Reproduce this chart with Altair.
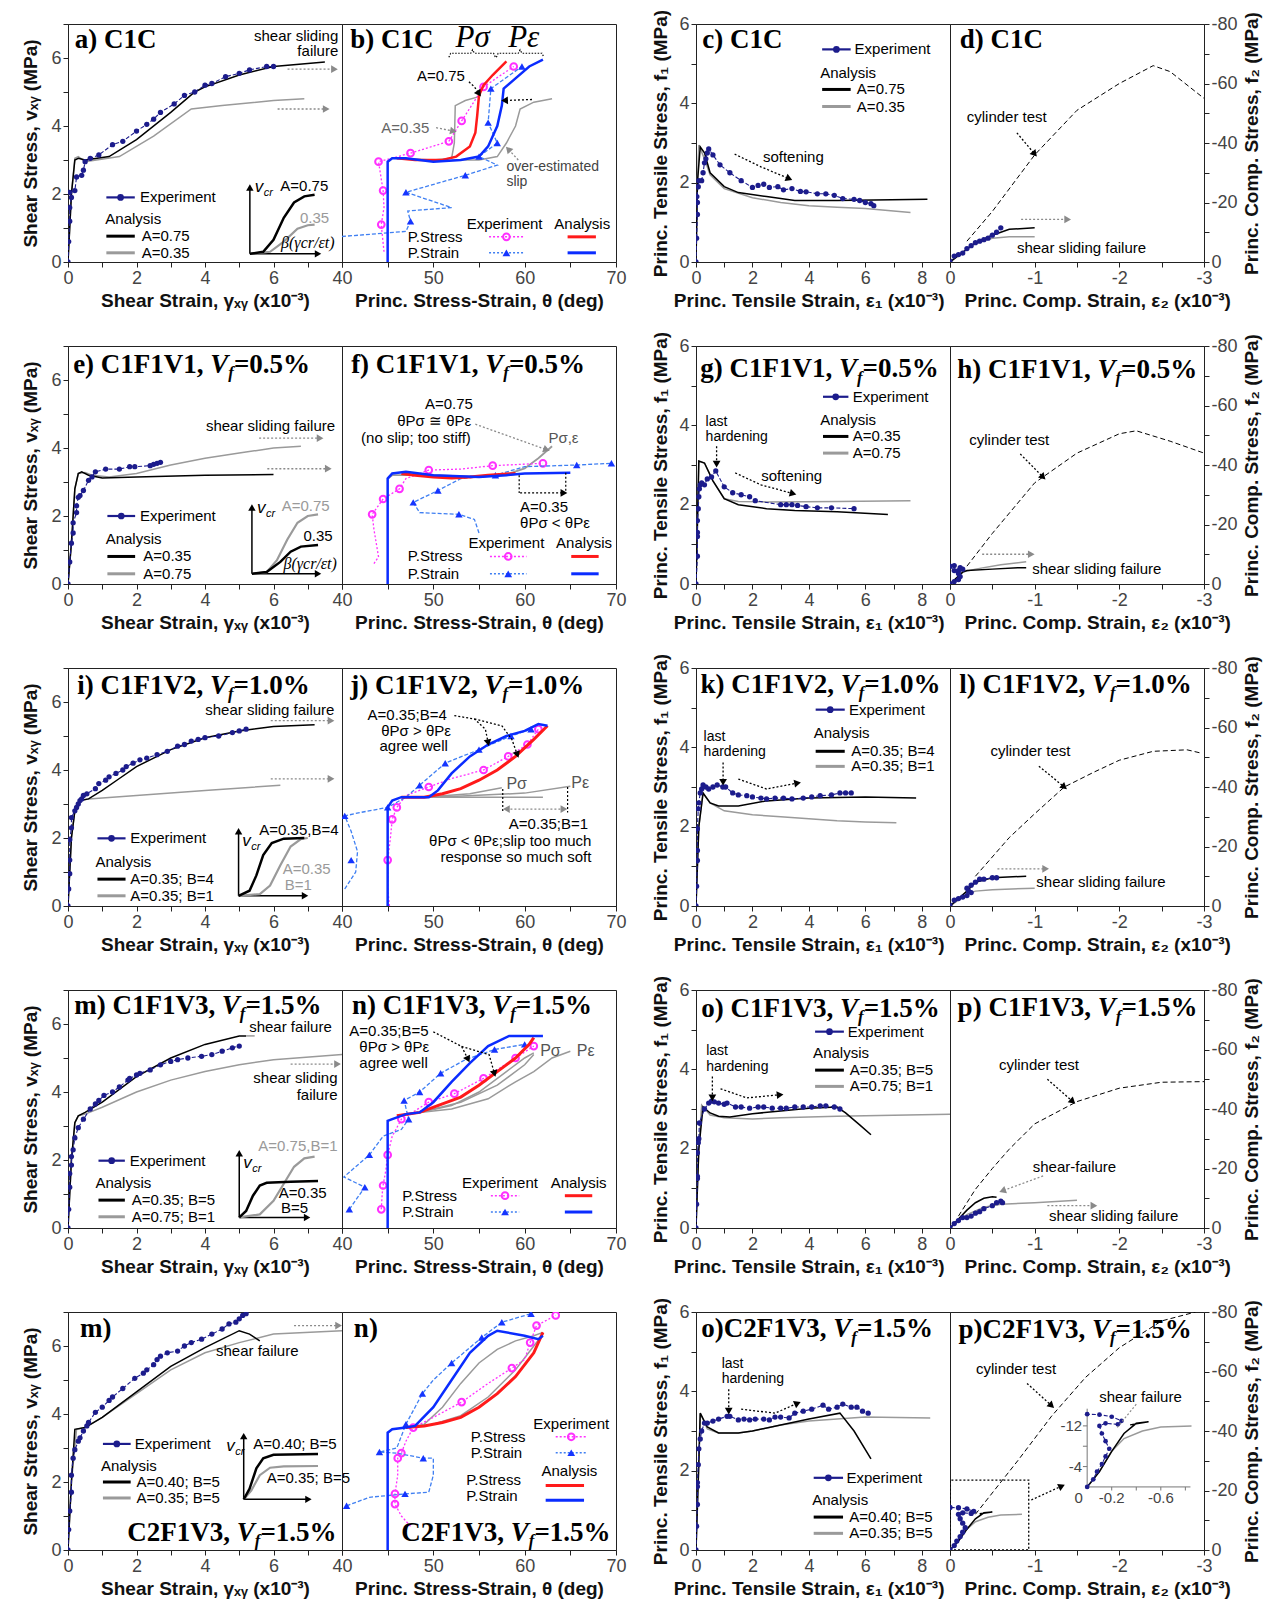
import math
import altair as alt
import pandas as pd

# ============================ DATA ============================
# ---------- Row 1 : C1C ----------
A_EXP = [(0,0),(0.02,0.6),(0.05,1.2),(0.05,1.6),(0.1,1.9),(0.05,2.05),(0.2,2.1),(0.25,2.5),(0.4,2.55),(0.45,2.7),(0.5,2.95),(0.65,3.05),(0.9,3.15),(1.3,3.45),(1.6,3.55),(2.0,3.85),(2.3,4.05),(2.5,4.2),(2.7,4.4),(3.1,4.65),(3.4,4.9),(3.7,5.0),(4.0,5.2),(4.2,5.25),(4.6,5.45),(5.0,5.55),(5.3,5.65),(5.8,5.75),(6.0,5.75)]
A_K = [(0,0),(0.1,2.0),(0.2,3.0),(0.3,3.05),(0.5,3.0),(1.2,3.1),(2.0,3.6),(3.0,4.4),(3.7,5.0),(4.0,5.15),(5.0,5.5),(6.0,5.75),(7.5,5.88)]
A_G = [(0,0),(0.1,2.0),(0.2,3.05),(0.3,3.1),(0.5,2.95),(1.5,3.1),(2.5,3.7),(3.6,4.5),(4.5,4.6),(6.0,4.75),(6.9,4.8)]
A_INS_K = [(5.31,0.24),(5.7,0.3),(6.0,0.65),(6.3,1.3),(6.6,1.75),(6.9,1.93),(7.2,1.98)]
A_INS_G = [(5.31,0.24),(5.9,0.3),(6.3,0.6),(6.7,0.98),(7.0,1.08),(7.2,1.1)]

B_RED = [(46,3.05),(48,3.0),(51,3.0),(52.5,3.1),(54,3.4),(54.6,3.8),(54.8,4.3),(55,4.9),(55.5,5.2),(56.5,5.5),(58,5.9)]
B_BLUE = [(45,0),(45,2.95),(45.5,3.05),(47,3.05),(50,2.95),(53,3.0),(55,3.1),(56,3.4),(57,4.0),(57.5,4.6),(57.7,5.1),(59,5.4),(60.5,5.75),(62,5.95)]
B_G1 = [(45.5,3.05),(50,3.0),(52,3.05),(52.3,3.5),(52.4,4.6),(53.5,4.75),(54.8,4.85)]
B_G2 = [(52,3.0),(55,3.0),(57,3.1),(58,3.5),(59,4.0),(59.5,4.5),(61,4.7),(63,4.8)]
B_MAG = [(44.6,0.3),(44.3,1.1),(44.6,1.6),(44.5,2.1),(44,2.95),(47.5,3.2),(51.7,3.55),(53.1,4.15),(55.5,5.15),(58.8,5.75)]
B_MAG_P = [(44.3,1.1),(44.5,2.1),(44,2.95),(47.5,3.2),(51.7,3.55),(53.1,4.15),(55.5,5.15),(58.8,5.75)]
B_LB = [(40,0.75),(47,0.9),(47.5,1.2),(47.2,1.5),(52,1.6),(47,2.05),(53.5,2.55),(57,2.85),(55,3.1),(57,3.5),(56,4.1),(56.3,5.1),(59.7,5.75)]
B_LB_P = [(47.5,1.2),(47,2.05),(53.5,2.55),(55,3.1),(57,3.5),(56,4.1),(56.3,5.1),(59.7,5.75)]

C_EXP = [(0,0),(0.02,0.6),(0.05,1.2),(0.05,1.5),(0.03,1.65),(0.08,1.9),(0.1,2.05),(0.2,2.05),(0.25,2.25),(0.3,2.5),(0.35,2.6),(0.4,2.75),(0.45,2.85),(0.6,2.7),(0.85,2.45),(1.2,2.25),(1.6,2.05),(2.0,1.88),(2.2,1.93),(2.4,1.96),(2.6,1.88),(2.9,1.9),(3.1,1.82),(3.4,1.85),(3.7,1.78),(3.9,1.77),(4.3,1.72),(4.6,1.72),(4.9,1.68),(5.2,1.6),(5.6,1.58),(5.8,1.55),(6.0,1.5),(6.2,1.47),(6.3,1.42)]
C_K = [(0,0),(0.05,2.0),(0.15,2.9),(0.3,2.75),(0.5,2.25),(1.0,1.9),(1.5,1.75),(2.5,1.65),(3.5,1.55),(5.0,1.55),(8.2,1.58)]
C_G = [(0,0),(0.05,2.0),(0.1,2.95),(0.3,2.6),(0.5,2.2),(1.0,1.85),(2.0,1.62),(3.0,1.5),(4.0,1.42),(5.0,1.38),(6.0,1.35),(7.6,1.25)]

D_CYL = [(-0.2,-7),(-0.5,-17),(-1.0,-36),(-1.5,-51),(-2.0,-60),(-2.4,-66),(-2.6,-64),(-3.0,-55)]
D_EXP = [(0,0),(-0.05,-2),(-0.1,-2.5),(-0.15,-3),(-0.2,-4.5),(-0.25,-5.5),(-0.3,-6.5),(-0.35,-7),(-0.4,-7.5),(-0.45,-8),(-0.5,-9),(-0.55,-10),(-0.6,-11.5)]
D_K = [(0,0),(-0.3,-6.5),(-0.5,-9),(-0.7,-11),(-1.0,-11.5)]
D_G = [(0,0),(-0.3,-6.5),(-0.5,-8),(-0.7,-8.5),(-1.0,-8.5)]

# ---------- Row 2 : C1F1V1 ----------
E_EXP = [(0,0),(0.05,0.65),(0.1,1.2),(0.15,1.5),(0.15,1.8),(0.25,2.1),(0.25,2.3),(0.3,2.55),(0.35,2.6),(0.45,2.75),(0.6,3.05),(0.7,3.15),(0.8,3.3),(1.1,3.38),(1.5,3.38),(1.8,3.45),(1.95,3.45),(2.4,3.48),(2.5,3.52),(2.6,3.55),(2.7,3.58)]
E_K = [(0,0),(0.1,1.2),(0.2,2.8),(0.3,3.25),(0.4,3.3),(0.6,3.2),(1.0,3.12),(2.0,3.15),(4.0,3.2),(6.0,3.22)]
E_G = [(0,0),(0.1,1.2),(0.2,2.8),(0.3,3.25),(0.5,3.28),(0.7,3.2),(1.2,3.15),(2.0,3.25),(3.0,3.5),(4.0,3.7),(5.0,3.85),(6.0,4.0),(6.8,4.05)]
E_INS_G = [(5.37,0.3),(5.8,0.35),(6.1,0.7),(6.4,1.3),(6.7,1.8),(7.0,2.0),(7.3,2.05)]
E_INS_K = [(5.37,0.3),(5.8,0.35),(6.2,0.65),(6.5,0.95),(6.8,1.1),(7.3,1.15)]

F_BLUE = [(45,0),(45,3.1),(45.5,3.25),(47,3.3),(50,3.2),(55,3.15),(58,3.2),(60,3.25),(65,3.27)]
F_RED = [(46.5,3.25),(48,3.2),(50,3.15),(52,3.12),(54,3.15),(56,3.2),(59,3.25)]
F_G = [(45,3.1),(45.5,3.2),(50,3.2),(55,3.15),(58,3.22),(60,3.4),(61.5,3.7),(63,4.05)]
F_MAG = [(43.5,0.6),(44,0.8),(43.5,1.6),(43.3,2.05),(44.5,2.5),(46.3,2.8),(47,3.1),(49.5,3.35),(53,3.38),(56.5,3.48),(62,3.55)]
F_MAG_P = [(43.3,2.05),(44.5,2.5),(46.3,2.8),(49.5,3.35),(56.5,3.48),(62,3.55)]
F_LB = [(55,1.5),(54.5,1.9),(52.8,2.05),(48.5,2.1),(47.8,2.4),(50.5,2.75),(53,3.1),(56.8,3.2),(60,3.45),(65.7,3.5),(69.5,3.55)]
F_LB_P = [(47.8,2.4),(50.5,2.75),(52.8,2.05),(56.8,3.2),(65.7,3.5),(69.5,3.55)]

G_EXP = [(0,0),(0.05,0.7),(0.05,1.2),(0.05,1.3),(0.05,1.6),(0.08,1.9),(0.1,2.2),(0.12,2.4),(0.15,2.5),(0.2,2.55),(0.3,2.5),(0.4,2.65),(0.55,2.7),(0.7,2.85),(1.0,2.45),(1.3,2.3),(1.6,2.25),(1.9,2.2),(2.1,2.1),(3.0,2.0),(3.2,2.0),(3.4,2.0),(3.6,1.98),(3.9,1.95),(4.3,1.92),(4.8,1.92),(5.6,1.9)]
G_K = [(0,0),(0.05,1.5),(0.1,3.1),(0.3,3.05),(0.6,2.6),(1.0,2.15),(1.5,2.0),(2.5,1.9),(3.5,1.85),(5.0,1.82),(6.8,1.75)]
G_G = [(0,0),(0.05,1.5),(0.1,3.1),(0.3,3.05),(0.6,2.6),(1.0,2.15),(1.5,2.08),(2.5,2.07),(5.0,2.08),(7.6,2.1)]

H_CYL = [(-0.2,-6),(-0.5,-17),(-1.0,-34),(-1.5,-44),(-2.0,-50.5),(-2.2,-51.5),(-2.6,-48),(-3.0,-44)]
H_EXP = [(0,0),(-0.05,-0.8),(-0.1,-1.5),(-0.12,-2.5),(-0.1,-3.5),(-0.05,-4.5),(0,-6),(-0.05,-6.2),(-0.12,-5.5),(-0.15,-5.0),(-0.1,-4.5)]
H_K = [(0,0),(-0.15,-4),(-0.2,-4.5),(-0.5,-5),(-0.8,-5.5),(-0.9,-5.5)]
H_G = [(0,0),(-0.15,-4),(-0.3,-5),(-0.6,-6.5),(-0.9,-7.5)]

# ---------- Row 3 : C1F1V2 ----------
I_EXP = [(0,0),(0.02,0.5),(0.05,0.95),(0.05,1.35),(0.05,1.95),(0.1,2.3),(0.1,2.6),(0.2,2.8),(0.25,2.9),(0.3,3.0),(0.35,3.1),(0.4,3.15),(0.45,3.25),(0.55,3.3),(0.8,3.45),(0.9,3.6),(1.1,3.7),(1.2,3.8),(1.4,3.9),(1.6,4.0),(1.7,4.1),(1.9,4.2),(2.1,4.3),(2.3,4.35),(2.6,4.45),(2.9,4.55),(3.2,4.7),(3.4,4.75),(3.6,4.85),(3.8,4.9),(4.0,4.95),(4.4,5.0),(4.8,5.1),(5.0,5.15),(5.2,5.2)]
I_K = [(0,0),(0.1,2.0),(0.2,2.8),(0.35,3.1),(0.6,3.15),(1.0,3.4),(1.5,3.75),(2.0,4.1),(3.0,4.6),(4.0,4.95),(5.0,5.15),(6.0,5.28),(7.2,5.33)]
I_G = [(0,0),(0.1,2.0),(0.2,2.8),(0.35,3.1),(0.6,3.15),(2.0,3.25),(4.0,3.4),(6.2,3.55)]
I_INS_K = [(4.98,0.3),(5.3,0.45),(5.5,0.9),(5.7,1.5),(5.95,1.85),(6.3,1.98),(6.9,2.0)]
I_INS_G = [(4.98,0.3),(5.6,0.35),(5.9,0.6),(6.2,1.2),(6.5,1.75),(6.8,1.97),(7.0,2.0)]

J_BLUE = [(45,0),(45,2.9),(45.5,3.1),(46.5,3.2),(48,3.2),(49.5,3.2),(50.5,3.4),(52,3.9),(54,4.4),(56,4.75),(58,5.0),(60,5.15),(61.5,5.35),(62.5,5.3)]
J_RED = [(46.5,3.2),(49,3.2),(51,3.3),(53,3.45),(55,3.7),(57,4.0),(59,4.4),(61,4.9),(62.5,5.3)]
J_G1 = [(46.5,3.2),(50,3.22),(54,3.3),(57.5,3.48)]
J_G2 = [(46.5,3.2),(52,3.22),(60,3.32),(65,3.52)]
J_G3 = [(46.5,3.2),(62,3.2)]
J_MAG = [(45.2,0),(45,0.5),(45,1.35),(45.3,2.0),(45.5,2.55),(46,2.9),(47,3.25),(49.5,3.5),(52,3.75),(55.5,4.0),(58.2,4.4),(60.3,4.75),(61.5,5.2)]
J_MAG_P = [(45,1.35),(45.5,2.55),(46,2.9),(49.5,3.5),(55.5,4.0),(58.2,4.4),(60.3,4.75),(61.5,5.2)]
J_LB = [(40.3,0.5),(41.5,1.0),(41.7,1.6),(41,2.2),(40.3,2.65),(42,2.75),(45,2.9),(47,3.2),(48.5,3.55),(50,3.9),(51.3,4.2),(55,4.6),(58.5,5.0),(60.7,5.2)]
J_LB_P = [(40.3,2.65),(41,1.35),(45,2.9),(48.5,3.55),(51.3,4.2),(55,4.6),(58.5,5.0),(60.7,5.2)]

K_EXP = [(0,0),(0.02,0.5),(0.05,1.15),(0.05,1.4),(0.05,1.95),(0.08,2.45),(0.1,2.6),(0.15,2.85),(0.2,2.95),(0.25,3.05),(0.35,3.0),(0.45,2.95),(0.6,3.0),(0.75,3.05),(0.95,3.0),(1.05,3.0),(1.3,2.85),(1.5,2.8),(1.8,2.78),(2.0,2.75),(2.3,2.72),(2.5,2.7),(2.8,2.72),(3.1,2.72),(3.4,2.7),(3.8,2.72),(4.1,2.75),(4.4,2.78),(4.8,2.8),(5.1,2.85),(5.3,2.85),(5.5,2.85)]
K_K = [(0,0),(0.1,2.0),(0.25,2.85),(0.5,2.6),(0.8,2.52),(1.5,2.52),(2.5,2.65),(4.0,2.72),(6.0,2.75),(7.8,2.72)]
K_G = [(0,0),(0.1,2.0),(0.25,2.85),(0.5,2.6),(1.0,2.4),(2.0,2.3),(3.0,2.25),(4.0,2.2),(5.0,2.15),(6.0,2.12),(7.1,2.1)]

L_CYL = [(-0.3,-10),(-0.7,-23),(-1.0,-31),(-1.35,-40),(-1.7,-45),(-2.0,-49),(-2.4,-52),(-2.8,-52.5),(-2.95,-51.5)]
L_EXP = [(0,0),(-0.05,-2),(-0.1,-2.5),(-0.15,-3),(-0.2,-3.5),(-0.25,-4.5),(-0.22,-5),(-0.2,-6),(-0.25,-7),(-0.3,-8),(-0.35,-9),(-0.4,-9),(-0.5,-9.5),(-0.55,-9.5)]
L_K = [(0,0),(-0.2,-5),(-0.3,-8),(-0.5,-9.5),(-0.9,-10)]
L_G = [(0,0),(-0.2,-4),(-0.3,-5),(-0.5,-5.5),(-1.0,-6)]

# ---------- Row 4 : C1F1V3 ----------
M_EXP = [(0,0),(0.02,0.55),(0.05,1.2),(0.05,1.6),(0.1,1.85),(0.1,2.1),(0.15,2.3),(0.2,2.65),(0.3,2.95),(0.45,3.2),(0.65,3.5),(0.8,3.65),(0.9,3.75),(1.05,3.9),(1.3,4.0),(1.5,4.15),(1.75,4.35),(1.8,4.4),(2.0,4.5),(2.1,4.55),(2.4,4.65),(2.7,4.8),(3.0,4.9),(3.2,4.95),(3.5,5.0),(3.9,5.05),(4.2,5.1),(4.5,5.2),(4.8,5.3),(5.0,5.35)]
M_K = [(0,0),(0.1,2.0),(0.2,3.1),(0.3,3.3),(0.5,3.4),(1.0,3.7),(2.0,4.45),(3.0,5.0),(4.0,5.4),(5.0,5.65),(5.2,5.65)]
M_K_EXT = [(5.2,5.65),(5.45,5.65)]
M_G = [(0,0),(0.1,2.0),(0.2,3.1),(0.3,3.3),(0.5,3.35),(1.0,3.55),(2.0,4.0),(3.0,4.35),(4.0,4.6),(5.0,4.8),(6.0,4.95),(8.0,5.1)]
M_INS_K = [(5.0,0.31),(5.2,0.5),(5.4,0.95),(5.6,1.25),(5.8,1.33),(6.5,1.36),(7.3,1.38)]
M_INS_G = [(5.0,0.31),(5.6,0.4),(6.0,0.8),(6.3,1.3),(6.6,1.8),(6.9,2.05),(7.2,2.1)]

N_BLUE = [(45,0),(45,3.15),(45.5,3.2),(47,3.35),(48.5,3.4),(50,3.7),(52,4.3),(54,4.85),(56,5.35),(58.3,5.65),(62,5.65)]
N_RED = [(46,3.3),(48.5,3.4),(51,3.65),(53,3.85),(55,4.2),(57,4.6),(59,5.0),(60.5,5.4),(61,5.6)]
N_G1 = [(48.5,3.4),(52,3.6),(55,4.0),(58,4.6),(60,5.0),(61,5.15)]
N_G2 = [(48.5,3.4),(53,3.7),(57,4.2),(60,4.8),(61,5.1)]
N_G3 = [(48.5,3.4),(52,3.5),(56,3.8),(59,4.3),(61,4.6),(63,5.0),(65,5.2)]
N_MAG = [(44.3,0.55),(44.4,1.0),(44.5,1.25),(44.8,1.7),(45,2.15),(45.5,2.7),(46.5,3.2),(49.5,3.7),(52.3,3.95),(55.5,4.4),(59,5.0),(61,5.35)]
N_MAG_P = [(44.3,0.55),(44.5,1.25),(45,2.15),(46.5,3.2),(49.5,3.7),(52.3,3.95),(55.5,4.4),(59,5.0),(61,5.35)]
N_LB = [(40.8,0.55),(42.5,1.2),(40.2,1.5),(43,2.15),(44.5,2.7),(46.5,2.9),(47.3,3.2),(46.8,3.75),(48.5,4.0),(50.8,4.55),(53.5,4.95),(56.7,5.25),(60,5.4)]
N_LB_P = [(40.8,0.55),(42.5,1.2),(43,2.15),(47.3,3.2),(46.8,3.75),(48.5,4.0),(50.8,4.55),(56.7,5.25),(60,5.4)]

O_EXP = [(0,0),(0.02,0.6),(0.05,1.25),(0.05,1.3),(0.05,1.9),(0.08,2.15),(0.1,2.25),(0.12,2.65),(0.3,3.0),(0.45,3.15),(0.55,3.2),(0.65,3.18),(0.8,3.15),(1.0,3.12),(1.1,3.15),(1.4,3.05),(1.6,3.05),(1.9,3.02),(2.2,3.05),(2.4,3.05),(2.7,3.02),(3.0,3.02),(3.2,3.02),(3.5,3.05),(3.8,3.05),(4.1,3.05),(4.4,3.08),(4.6,3.08),(4.9,3.05),(5.1,3.0)]
O_K = [(0,0),(0.1,2.0),(0.25,3.05),(0.5,2.9),(0.8,2.82),(1.2,2.8),(2.0,2.88),(3.0,2.95),(4.0,3.02),(5.0,3.05),(5.3,2.9),(5.8,2.6),(6.2,2.35)]
O_G = [(0,0),(0.1,2.0),(0.2,3.1),(0.5,2.85),(1.0,2.78),(2.0,2.75),(3.0,2.78),(5.0,2.82),(9.0,2.87)]

P_CYL = [(-0.1,-4),(-0.3,-13),(-0.5,-20),(-0.7,-26.5),(-1.0,-35),(-1.5,-42.5),(-2.0,-47),(-2.5,-49),(-3.0,-49.2)]
P_EXP = [(0,0),(-0.05,-1.5),(-0.1,-2.5),(-0.15,-3.5),(-0.2,-3.5),(-0.25,-4),(-0.3,-5),(-0.35,-5.5),(-0.4,-6.5),(-0.5,-7.5),(-0.55,-8.5),(-0.6,-9),(-0.62,-8.5)]
P_K = [(0,0),(-0.1,-3),(-0.2,-6),(-0.3,-8.5),(-0.4,-10),(-0.5,-10.5),(-0.55,-10.3)]
P_G = [(0,0),(-0.2,-4.5),(-0.4,-7),(-0.6,-8),(-1.0,-8.5),(-1.5,-9.3)]

# ---------- Row 5 : C2F1V3 ----------
M2_EXP = [(0,0),(0.02,0.6),(0.05,1.15),(0.1,1.7),(0.1,2.2),(0.15,2.7),(0.2,2.95),(0.3,3.2),(0.35,3.3),(0.45,3.5),(0.55,3.65),(0.6,3.75),(0.8,4.05),(1.0,4.2),(1.2,4.4),(1.3,4.5),(1.6,4.75),(1.95,5.05),(2.2,5.2),(2.3,5.3),(2.5,5.45),(2.6,5.6),(2.7,5.7),(2.9,5.8),(3.2,5.85),(3.4,6.0),(3.6,6.1),(3.9,6.2),(4.2,6.35),(4.5,6.5),(4.7,6.65),(4.9,6.7),(5.0,6.8),(5.1,6.9),(5.2,6.95)]
M2_K = [(0,0),(0.1,2.0),(0.2,3.55),(0.5,3.6),(1.0,3.9),(2.0,4.65),(3.0,5.4),(4.0,5.95),(5.0,6.45),(5.3,6.35),(5.6,6.15)]
M2_G = [(0,0),(0.1,2.0),(0.25,3.55),(0.5,3.6),(1.0,3.9),(2.0,4.6),(3.0,5.3),(4.0,5.8),(5.0,6.1),(6.0,6.35),(8.0,6.45)]
M2_INS_K = [(5.13,1.49),(5.3,1.8),(5.5,2.4),(5.7,2.7),(6.0,2.8),(7.3,2.82)]
M2_INS_G = [(5.13,1.49),(5.35,1.75),(5.6,2.2),(5.9,2.42),(6.3,2.46),(7.3,2.47)]

N2_BLUE = [(45,0),(45,3.45),(45.5,3.55),(47,3.6),(48,3.65),(50,4.2),(52,5.0),(54,5.8),(56,6.3),(57,6.45),(60,6.3),(61.5,6.2),(62,6.3)]
N2_RED = [(47,3.6),(49,3.65),(51,3.75),(53,3.9),(55,4.2),(57,4.6),(59,5.1),(61,5.8),(62,6.4)]
N2_G1 = [(47.5,3.6),(49,3.7),(51,4.2),(53,4.9),(55,5.5),(57,5.9),(59,6.15),(61,6.3),(62,6.4)]
N2_G2 = [(47.5,3.6),(50,3.7),(53,3.95),(56,4.5),(59,5.3),(61,6.0),(62,6.35)]
N2_MAG = [(47.5,0.7),(46.5,1.0),(45.8,1.35),(45.8,1.65),(46.1,2.2),(46.1,2.7),(46.5,2.85),(47,3.2),(47.8,3.6),(50,3.9),(53.1,4.35),(56,4.9),(58.6,5.35),(60,5.6),(60.6,6.1),(61.3,6.6),(63.4,6.9)]
N2_MAG_P = [(45.8,1.35),(45.8,1.65),(46.1,2.7),(46.5,2.85),(47.8,3.6),(53.1,4.35),(58.6,5.35),(60.6,6.1),(61.3,6.6),(63.4,6.9)]
N2_LB = [(40.5,1.3),(43,1.55),(46.9,1.65),(49.5,1.7),(50,2.2),(50,2.7),(48.9,2.7),(46,2.85),(44.1,2.88),(46,3.0),(47,3.7),(48,4.2),(48.8,4.6),(50,5.0),(52,5.5),(55.3,6.25),(57.5,6.7),(60.7,6.95)]
N2_LB_P = [(40.5,1.3),(46.9,1.65),(48.9,2.7),(44.1,2.88),(47,3.7),(48.8,4.6),(52,5.5),(55.3,6.25),(57.5,6.7),(60.7,6.95)]

O2_EXP = [(0,0),(0.02,0.6),(0.05,1.15),(0.05,1.6),(0.05,1.7),(0.08,2.15),(0.1,2.55),(0.15,2.8),(0.2,3.0),(0.3,3.2),(0.4,3.2),(0.6,3.25),(0.8,3.3),(1.1,3.37),(1.2,3.37),(1.5,3.28),(1.7,3.3),(1.9,3.28),(2.1,3.3),(2.4,3.3),(2.6,3.28),(2.8,3.35),(3.0,3.35),(3.3,3.33),(3.5,3.45),(3.8,3.5),(4.1,3.55),(4.5,3.65),(4.7,3.55),(5.0,3.6),(5.2,3.68),(5.5,3.6),(5.7,3.6),(5.9,3.5),(6.1,3.45)]
O2_K = [(0,0),(0.1,2.2),(0.15,3.45),(0.4,3.1),(0.8,2.95),(1.5,2.95),(2.0,3.0),(3.0,3.15),(4.0,3.3),(5.1,3.45),(5.6,3.0),(6.2,2.3)]
O2_G = [(0,0),(0.1,2.2),(0.15,3.45),(0.4,3.05),(0.8,2.95),(1.5,2.95),(2.0,3.0),(3.0,3.15),(4.0,3.25),(5.0,3.3),(6.0,3.35),(8.3,3.33)]

P2_CYL = [(-0.3,-12),(-0.8,-30),(-1.2,-45),(-1.6,-58),(-2.0,-68),(-2.5,-77),(-2.9,-80)]
P2_EXP = [(0,0),(-0.05,-1.5),(-0.08,-3),(-0.12,-4.5),(-0.15,-6),(-0.18,-7.5),(-0.15,-9),(-0.12,-10.5),(-0.1,-12),(-0.15,-12.5),(-0.25,-12.3),(-0.28,-13),(-0.2,-13.8),(-0.1,-14.2),(0,-14.3)]
P2_K = [(0,0),(-0.1,-3),(-0.2,-7),(-0.3,-10.5),(-0.4,-12.5),(-0.5,-12.8),(-0.35,-12.2)]
P2_G = [(0,0),(-0.1,-3),(-0.2,-7),(-0.3,-9.5),(-0.45,-11),(-0.6,-11.8),(-0.85,-12)]
P2_BOX = [(0,0),(-0.93,0),(-0.93,-23.5),(0,-23.5),(0,0)]
# inset of p): origin and scale of the magnified view
INS_X0, INS_Y0, INS_SX, INS_SY = -1.62, -21.2, 1.45, 1.71

# ============================ STYLE ============================
SANS = "Liberation Sans"
SERIF = "Liberation Serif"
NAVY = "#1c1c8c"
GRAY = "#9a9a9a"
AGRAY = "#8a8a8a"
MAG = "#ff30ff"
LBLUE = "#3f7ff2"
TRI = "#1535ff"
RED = "#ff1a1a"
BLUE = "#0a2cff"
WL, WR, GAP, H, VS = 274, 254, 80, 238, 84

# Times-bold advance widths (1/1000 em) for positioning title pieces
TBW = {'a':500,'b':556,'c':444,'d':556,'e':444,'f':333,'g':500,'h':556,'i':278,'j':333,'k':556,
       'l':278,'m':833,'n':556,'o':500,'p':556,')':333,' ':250,',':250,'=':570,'.':250,'%':1000,
       'C':722,'F':611,'V':722}


def ax_(values, expr, title, **kw):
    return alt.Axis(values=values, labelExpr=expr, title=title, **kw)


AX = {
    'ax': ax_(list(range(0, 9)), "datum.value % 2 == 0 && datum.value < 8 ? datum.label : ''",
              'Shear Strain, γₓᵧ (x10⁻³)'),
    'ay': ax_(list(range(0, 8)), "datum.value % 2 == 0 && datum.value < 7 ? datum.label : ''",
              'Shear Stress, vₓᵧ (MPa)', titlePadding=10),
    'bx': ax_(list(range(40, 71, 5)), "datum.value % 10 == 0 ? datum.label : ''",
              'Princ. Stress-Strain, θ (deg)'),
    'cx': ax_(list(range(0, 10)), "datum.value % 2 == 0 && datum.value < 9 ? datum.label : ''",
              'Princ. Tensile Strain, ε₁ (x10⁻³)', titleX=WR - 6, titleAlign='right'),
    'cy': ax_(list(range(0, 7)), "datum.value % 2 == 0 ? datum.label : ''",
              'Princ. Tensile Stress, f₁ (MPa)', titlePadding=8),
    'dx': ax_([0, -0.5, -1, -1.5, -2, -2.5, -3],
              "datum.value % 1 == 0 ? (datum.value == 0 ? '0' : '-' + format(-datum.value, 'd')) : ''",
              'Princ. Comp. Strain, ε₂ (x10⁻³)', titleX=14, titleAlign='left'),
    'dy': ax_(list(range(0, -81, -10)),
              "datum.value % 20 == 0 ? (datum.value == 0 ? '0' : '-' + format(-datum.value, 'd')) : ''",
              'Princ. Comp. Stress, f₂ (MPa)', orient='right', titleAngle=270, titleBaseline='top',
              titlePadding=5),
}


class Panel:
    def __init__(self, xd, yd, w, h, xax, yax):
        self.xd, self.yd, self.w, self.h = xd, yd, w, h
        self.xax, self.yax = xax, yax
        self.layers = []

    def enc(self, ch, order=False):
        e = dict(
            x=alt.X('x:Q', scale=alt.Scale(domain=list(self.xd), nice=False, zero=False), axis=self.xax),
            y=alt.Y('y:Q', scale=alt.Scale(domain=list(self.yd), nice=False, zero=False), axis=self.yax),
        )
        if order:
            e['order'] = alt.Order('o:Q')
        return ch.encode(**e)

    def px(self, x, y):
        fx = (x - self.xd[0]) / (self.xd[1] - self.xd[0]) * self.w
        fy = (1 - (y - self.yd[0]) / (self.yd[1] - self.yd[0])) * self.h
        return fx, fy

    def line(self, pts, color, w=1.2, dash=None, op=1.0):
        df = pd.DataFrame({'x': [p[0] for p in pts], 'y': [p[1] for p in pts], 'o': list(range(len(pts)))})
        kw = dict(color=color, strokeWidth=w, opacity=op, clip=True)
        if dash:
            kw['strokeDash'] = list(dash)
        self.layers.append(self.enc(alt.Chart(df).mark_line(**kw), order=True))

    def pts(self, pts, color, shape='circle', size=30, filled=True, sw=1.5, angle=0.0):
        df = pd.DataFrame({'x': [p[0] for p in pts], 'y': [p[1] for p in pts]})
        kw = dict(shape=shape, size=size, filled=filled, color=color, strokeWidth=sw, opacity=1, clip=True)
        if angle:
            kw['angle'] = round(angle, 2)
        self.layers.append(self.enc(alt.Chart(df).mark_point(**kw)))

    def text(self, x, y, s, size=15, color='black', align='left', font=SANS, weight='normal',
             style='normal', baseline='middle', dx=0, dy=0):
        df = pd.DataFrame({'x': [x], 'y': [y]})
        self.layers.append(self.enc(alt.Chart(df).mark_text(
            text=s, fontSize=size, color=color, align=align, font=font, fontWeight=weight,
            fontStyle=style, baseline=baseline, dx=dx, dy=dy)))

    def head(self, p1, p2, color, size):
        x1, y1 = self.px(*p1)
        x2, y2 = self.px(*p2)
        ang = math.degrees(math.atan2(x2 - x1, -(y2 - y1))) % 360
        self.pts([p2], color, 'triangle-up', size, True, 0, angle=ang)

    def arrow(self, pts, color='black', dash=(2, 2), w=1.3, size=60, both=False):
        self.line(pts, color, w, dash)
        self.head(pts[-2], pts[-1], color, size)
        if both:
            self.head(pts[1], pts[0], color, size)

    def chart(self):
        return alt.layer(*self.layers).properties(width=self.w, height=self.h)


def mk(kind):
    if kind == 'a':
        return Panel((0, 8), (0, 7), WL, H, AX['ax'], AX['ay'])
    if kind == 'b':
        return Panel((40, 70), (0, 7), WL, H, AX['bx'], None)
    if kind == 'c':
        return Panel((0, 9), (0, 6), WR, H, AX['cx'], AX['cy'])
    return Panel((0, -3), (0, -80), WR, H, AX['dx'], AX['dy'])


def twidth(s, size, italic=False):
    w = 0
    for ch in s:
        w += 667 if (italic and ch == 'V') else TBW.get(ch, 500)
    return w / 1000.0 * size


def title(p, x, y, parts, size=27, align='left'):
    items = []
    for t, k in parts:
        fs = size * 0.62 if k == 's' else size
        items.append((t, k, fs, twidth(t, fs, k != 'b')))
    total = sum(i[3] for i in items)
    cur = -total if align == 'right' else 0.0
    for t, k, fs, w in items:
        p.text(x, y, t, size=round(fs, 1), font=SERIF, weight='bold',
               style='normal' if k == 'b' else 'italic', dx=round(cur, 1),
               dy=round(size * 0.3, 1) if k == 's' else 0)
        cur += w


def vf(prefix, val):
    return [(prefix, 'b'), ('V', 'i'), ('f', 's'), ('=' + val, 'b')]


def expser(p, pts, size=28):
    p.line(pts, NAVY, 1.1, [4, 2])
    p.pts(pts, NAVY, 'circle', size, True)


def leg_exp(p, x0, x1, y, tx):
    p.line([(x0, y), (x1, y)], NAVY, 2.2)
    p.pts([((x0 + x1) / 2, y)], NAVY, 'circle', 45, True)
    p.text(tx, y, 'Experiment')


def leg_ana(p, xa, ya, x0, x1, tx, items):
    p.text(xa, ya, 'Analysis')
    for y, col, lab in items:
        p.line([(x0, y), (x1, y)], col, 3)
        p.text(tx, y, lab)


def sym_stress(p, x0, x1, y):
    p.line([(x0, y), (x1, y)], MAG, 1.5, [2, 2])
    p.pts([((x0 + x1) / 2, y)], MAG, 'circle', 45, False, 2)


def sym_strain(p, x0, x1, y):
    p.line([(x0, y), (x1, y)], LBLUE, 1.5, [2, 2])
    p.pts([((x0 + x1) / 2, y)], TRI, 'triangle-up', 60, True)


def leg_angle(p, xE, xA, yH, xt, yS, yT, s0, s1, a0, a1):
    p.text(xE, yH, 'Experiment', align='center')
    p.text(xA, yH, 'Analysis', align='center')
    p.text(xt, yS, 'P.Stress')
    p.text(xt, yT, 'P.Strain')
    sym_stress(p, s0, s1, yS)
    sym_strain(p, s0, s1, yT)
    p.line([(a0, yS), (a1, yS)], RED, 3)
    p.line([(a0, yT), (a1, yT)], BLUE, 3)


def vcr(p, x, y, color='black'):
    p.text(x, y, 'v', size=17, style='italic', color=color)
    p.text(x, y, 'cr', size=11, style='italic', dx=9, dy=6, color=color)


def inset_axes(p, x0, y0, x1, y1):
    p.arrow([(x0, y0), (x0, y1)], 'black', None, 1.5, 55)
    p.arrow([(x0, y0), (x1, y0)], 'black', None, 1.5, 55)


def angle_series(p, mag, magp, lb, lbp):
    p.line(mag, MAG, 1.3, [2, 2])
    p.pts(magp, MAG, 'circle', 45, False, 2)
    p.line(lb, LBLUE, 1.3, [4, 2])
    p.pts(lbp, TRI, 'triangle-up', 55, True)


def two_lines(p, x, y1, y2, s1, s2, size=14, color='black', align='left'):
    p.text(x, y1, s1, size=size, color=color, align=align)
    p.text(x, y2, s2, size=size, color=color, align=align)


# ============================ ROW 1 ============================
a = mk('a')
title(a, 0.2, 6.52, [("a) C1C", 'b')])
a.line(A_G, GRAY, 1.5)
a.line(A_K, 'black', 1.5)
expser(a, A_EXP)
two_lines(a, 7.89, 6.64, 6.2, 'shear sliding', 'failure', size=15, align='right')
a.arrow([(6.41, 5.67), (7.78, 5.67)], AGRAY)
a.arrow([(6.12, 4.5), (7.54, 4.5)], AGRAY)
leg_exp(a, 1.12, 1.95, 1.9, 2.1)
leg_ana(a, 1.09, 1.26, 1.12, 1.95, 2.15, [(0.76, 'black', 'A=0.75'), (0.27, GRAY, 'A=0.35')])
inset_axes(a, 5.31, 0.24, 7.3, 2.19)
a.line(A_INS_G, GRAY, 2.2)
a.line(A_INS_K, 'black', 2.5)
vcr(a, 5.45, 2.2)
a.text(6.2, 2.24, 'A=0.75')
a.text(7.2, 1.29, '0.35', color=GRAY, align='center')
a.text(7.0, 0.57, 'β(γcr/εt)', font=SERIF, style='italic', align='center', size=16)

b = mk('b')
title(b, 40.9, 6.52, [("b) C1C", 'b')])
b.text(54.3, 6.6, 'Pσ', size=31, font=SERIF, style='italic', align='center')
b.text(59.9, 6.6, 'Pε', size=31, font=SERIF, style='italic', align='center')
b.line([(51.7, 6.02), (51.9, 6.14), (54.1, 6.14), (54.3, 6.24), (54.5, 6.14), (56.6, 6.14), (56.8, 6.02)], 'black', 1.2, [1.5, 1.5])
b.line([(56.9, 6.02), (57.1, 6.14), (59.3, 6.14), (59.5, 6.24), (59.7, 6.14), (61.9, 6.14), (62.1, 6.02)], 'black', 1.2, [1.5, 1.5])
b.line(B_G1, GRAY, 1.5)
b.line(B_G2, GRAY, 1.5)
angle_series(b, B_MAG, B_MAG_P, B_LB, B_LB_P)
b.line(B_RED, RED, 2.5)
b.line(B_BLUE, BLUE, 2.5)
b.text(48.2, 5.48, 'A=0.75')
b.arrow([(53.9, 5.3), (54.5, 5.15), (55.0, 4.95)], 'black')
b.arrow([(60.8, 4.78), (57.8, 4.75)], 'black')
b.text(44.3, 3.95, 'A=0.35', color='#666')
b.arrow([(50.3, 3.95), (52.2, 3.85)], AGRAY)
two_lines(b, 58.0, 2.8, 2.36, 'over-estimated', 'slip', size=14, color='#444')
b.arrow([(59.3, 3.0), (58.2, 3.32)], AGRAY)
leg_angle(b, 57.8, 66.3, 1.12, 47.2, 0.74, 0.27, 56.1, 59.9, 64.7, 67.8)

c = mk('c')
title(c, 0.22, 5.59, [("c) C1C", 'b')])
c.line(C_G, GRAY, 1.5)
c.line(C_K, 'black', 1.5)
expser(c, C_EXP)
c.text(3.45, 2.64, 'softening', align='center')
c.arrow([(1.37, 2.72), (2.3, 2.4), (3.3, 2.1)], 'black')
leg_exp(c, 4.47, 5.48, 5.36, 5.62)
leg_ana(c, 4.4, 4.76, 4.47, 5.48, 5.7, [(4.35, 'black', 'A=0.75'), (3.92, GRAY, 'A=0.35')])

d = mk('d')
title(d, -0.115, -74.5, [("d) C1C", 'b')])
d.line(D_CYL, 'black', 1, [5, 3])
d.line(D_G, GRAY, 1.5)
d.line(D_K, 'black', 1.5)
expser(d, D_EXP)
d.text(-0.67, -48.9, 'cylinder test', align='center')
d.arrow([(-0.79, -43.4), (-1.0, -36.3)], 'black')
d.arrow([(-0.84, -14.3), (-1.39, -14.3)], AGRAY)
d.text(-0.79, -4.6, 'shear sliding failure')

# ============================ ROW 2 ============================
e = mk('a')
title(e, 0.15, 6.45, vf("e) C1F1V1, ", "0.5%"))
e.line(E_G, GRAY, 1.5)
e.line(E_K, 'black', 1.5)
expser(e, E_EXP)
e.text(7.8, 4.66, 'shear sliding failure', align='right')
e.arrow([(5.58, 4.29), (7.36, 4.29)], AGRAY)
e.arrow([(5.82, 3.39), (7.6, 3.39)], AGRAY)
leg_exp(e, 1.15, 1.96, 2.0, 2.1)
leg_ana(e, 1.1, 1.31, 1.15, 1.96, 2.2, [(0.81, 'black', 'A=0.35'), (0.3, GRAY, 'A=0.75')])
inset_axes(e, 5.37, 0.3, 7.3, 2.25)
e.line(E_INS_G, GRAY, 2.2)
e.line(E_INS_K, 'black', 2.5)
vcr(e, 5.52, 2.23)
e.text(6.24, 2.3, 'A=0.75', color=GRAY)
e.text(7.3, 1.42, '0.35', align='center')
e.text(7.07, 0.6, 'β(γcr/εt)', font=SERIF, style='italic', align='center', size=16)

f = mk('b')
title(f, 41.0, 6.45, vf("f) C1F1V1, ", "0.5%"))
f.line(F_G, GRAY, 1.8)
angle_series(f, F_MAG, F_MAG_P, F_LB, F_LB_P)
f.line(F_RED, RED, 3)
f.line(F_BLUE, BLUE, 2.5)
f.text(51.7, 5.3, 'A=0.75', align='center')
f.text(50.1, 4.8, 'θPσ ≅ θPε', align='center')
f.text(48.1, 4.3, '(no slip; too stiff)', align='center')
f.arrow([(54.6, 4.7), (62.4, 3.95)], AGRAY)
f.text(62.6, 4.29, 'Pσ,ε', color='#555')
f.line([(59.4, 3.2), (59.4, 2.68)], 'black', 1.2, [2, 2])
f.line([(64.5, 3.27), (64.5, 2.68)], 'black', 1.2, [2, 2])
f.arrow([(59.5, 2.68), (64.3, 2.68)], 'black')
f.text(59.5, 2.26, 'A=0.35')
f.text(59.5, 1.79, 'θPσ < θPε')
leg_angle(f, 58.0, 66.5, 1.21, 47.2, 0.81, 0.3, 56.2, 60.2, 65.1, 68.1)

g = mk('c')
title(g, 0.15, 5.41, vf("g) C1F1V1, ", "0.5%"))
g.line(G_G, GRAY, 1.5)
g.line(G_K, 'black', 1.5)
expser(g, G_EXP)
two_lines(g, 0.34, 4.08, 3.7, 'last', 'hardening')
g.arrow([(0.73, 3.47), (0.73, 3.02)], 'black')
g.text(3.39, 2.72, 'softening', align='center')
g.arrow([(1.39, 2.8), (2.3, 2.5), (3.44, 2.28)], 'black')
leg_exp(g, 4.5, 5.4, 4.72, 5.55)
leg_ana(g, 4.4, 4.13, 4.5, 5.4, 5.55, [(3.72, 'black', 'A=0.35'), (3.3, GRAY, 'A=0.75')])

h = mk('d')
title(h, -0.085, -72.1, vf("h) C1F1V1, ", "0.5%"))
h.line(H_CYL, 'black', 1, [5, 3])
h.line(H_G, GRAY, 1.5)
h.line(H_K, 'black', 1.5)
expser(h, H_EXP)
h.text(-0.7, -48.4, 'cylinder test', align='center')
h.arrow([(-0.83, -43.7), (-1.1, -35.9)], 'black')
h.arrow([(-0.38, -10), (-0.96, -10)], AGRAY)
h.text(-0.97, -4.9, 'shear sliding failure')

# ============================ ROW 3 ============================
i_ = mk('a')
title(i_, 0.27, 6.46, vf("i) C1F1V2, ", "1.0%"))
i_.line(I_G, GRAY, 1.5)
i_.line(I_K, 'black', 1.5)
expser(i_, I_EXP)
i_.text(7.78, 5.76, 'shear sliding failure', align='right')
i_.arrow([(5.92, 5.45), (7.68, 5.45)], AGRAY)
i_.arrow([(5.92, 3.74), (7.68, 3.74)], AGRAY)
leg_exp(i_, 0.86, 1.68, 1.99, 1.82)
leg_ana(i_, 0.8, 1.3, 0.86, 1.68, 1.82, [(0.79, 'black', 'A=0.35; B=4'), (0.3, GRAY, 'A=0.35; B=1')])
inset_axes(i_, 4.98, 0.3, 6.92, 2.2)
i_.line(I_INS_G, GRAY, 2.2)
i_.line(I_INS_K, 'black', 2.5)
vcr(i_, 5.09, 1.92)
i_.text(7.9, 2.25, 'A=0.35,B=4', align='right')
i_.text(6.27, 1.08, 'A=0.35', color=GRAY)
i_.text(6.33, 0.62, 'B=1', color=GRAY)

j = mk('b')
title(j, 40.9, 6.46, vf("j) C1F1V2, ", "1.0%"))
j.line(J_G3, GRAY, 1.5)
j.line(J_G1, GRAY, 1.5)
j.line(J_G2, GRAY, 1.5)
angle_series(j, J_MAG, J_MAG_P, J_LB, J_LB_P)
j.line(J_RED, RED, 3)
j.line(J_BLUE, BLUE, 2.5)
j.text(42.8, 5.62, 'A=0.35;B=4')
j.text(44.3, 5.16, 'θPσ > θPε')
j.text(44.1, 4.7, 'agree well')
j.arrow([(52.3, 5.6), (54.5, 5.5), (55.7, 5.2), (56.0, 4.8)], 'black')
j.arrow([(54.5, 5.5), (57.5, 5.3), (58.6, 4.9), (59.2, 4.45)], 'black')
j.text(58.0, 3.6, 'Pσ', color='#555', size=16)
j.text(65.1, 3.62, 'Pε', color='#555', size=16)
j.line([(57.6, 3.44), (57.6, 2.75)], 'black', 1.2, [2, 2])
j.line([(64.7, 3.5), (64.7, 2.75)], 'black', 1.2, [2, 2])
j.arrow([(58.0, 2.85), (64.3, 2.85)], AGRAY, both=True)
j.text(62.6, 2.4, 'A=0.35;B=1', align='center')
j.text(67.3, 1.92, 'θPσ < θPε;slip too much', align='right')
j.text(67.3, 1.43, 'response so much soft', align='right')

k = mk('c')
title(k, 0.16, 5.58, vf("k) C1F1V2, ", "1.0%"))
k.line(K_G, GRAY, 1.5)
k.line(K_K, 'black', 1.5)
expser(k, K_EXP)
two_lines(k, 0.27, 4.26, 3.88, 'last', 'hardening')
k.arrow([(0.96, 3.62), (0.96, 3.12)], 'black')
k.arrow([(1.5, 3.2), (2.5, 2.95), (3.6, 3.1)], 'black')
leg_exp(k, 4.24, 5.27, 4.95, 5.42)
leg_ana(k, 4.17, 4.36, 4.24, 5.27, 5.5, [(3.9, 'black', 'A=0.35; B=4'), (3.52, GRAY, 'A=0.35; B=1')])

l = mk('d')
title(l, -0.11, -74.4, vf("l) C1F1V2, ", "1.0%"))
l.line(L_CYL, 'black', 1, [5, 3])
l.line(L_G, GRAY, 1.5)
l.line(L_K, 'black', 1.5)
expser(l, L_EXP)
l.text(-0.95, -52, 'cylinder test', align='center')
l.arrow([(-1.05, -47), (-1.35, -40)], 'black')
l.arrow([(-0.56, -12.5), (-1.13, -12.5)], AGRAY)
l.text(-1.02, -7.9, 'shear sliding failure')

# ============================ ROW 4 ============================
m = mk('a')
title(m, 0.18, 6.52, vf("m) C1F1V3, ", "1.5%"))
m.line(M_G, GRAY, 1.5)
m.line(M_K, 'black', 1.5)
m.line(M_K_EXT, GRAY, 1.5)
expser(m, M_EXP)
m.text(5.29, 5.9, 'shear failure')
two_lines(m, 7.87, 4.4, 3.92, 'shear sliding', 'failure', size=15, align='right')
m.arrow([(6.5, 4.82), (7.87, 4.82)], AGRAY)
leg_exp(m, 0.89, 1.66, 1.98, 1.8)
leg_ana(m, 0.8, 1.32, 0.89, 1.66, 1.86, [(0.82, 'black', 'A=0.35; B=5'), (0.33, GRAY, 'A=0.75; B=1')])
inset_axes(m, 5.0, 0.31, 6.98, 2.2)
m.line(M_INS_G, GRAY, 2.2)
m.line(M_INS_K, 'black', 2.5)
vcr(m, 5.12, 1.92)
m.text(7.87, 2.41, 'A=0.75,B=1', align='right', color=GRAY)
m.text(6.15, 1.04, 'A=0.35')
m.text(6.22, 0.6, 'B=5')

n = mk('b')
title(n, 41.1, 6.52, vf("n) C1F1V3, ", "1.5%"))
n.line(N_G1, GRAY, 1.5)
n.line(N_G2, GRAY, 1.5)
n.line(N_G3, GRAY, 1.5)
angle_series(n, N_MAG, N_MAG_P, N_LB, N_LB_P)
n.line(N_RED, RED, 3)
n.line(N_BLUE, BLUE, 2.5)
n.text(40.8, 5.78, 'A=0.35;B=5')
n.text(41.9, 5.32, 'θPσ > θPε')
n.text(41.9, 4.85, 'agree well')
n.arrow([(50.0, 5.77), (53.1, 5.34), (53.8, 4.96)], 'black')
n.arrow([(53.1, 5.34), (56.1, 5.1), (56.7, 4.54)], 'black')
n.text(61.7, 5.2, 'Pσ', color='#555', size=16)
n.text(65.7, 5.2, 'Pε', color='#555', size=16)
leg_angle(n, 57.3, 65.9, 1.32, 46.6, 0.95, 0.47, 56.3, 59.4, 64.4, 67.4)

o = mk('c')
title(o, 0.19, 5.53, vf("o) C1F1V3, ", "1.5%"))
o.line(O_G, GRAY, 1.5)
o.line(O_K, 'black', 1.5)
expser(o, O_EXP)
two_lines(o, 0.36, 4.45, 4.07, 'last', 'hardening')
o.arrow([(0.58, 3.82), (0.58, 3.28)], 'black')
o.arrow([(0.87, 3.51), (1.8, 3.28), (2.98, 3.36)], 'black')
leg_exp(o, 4.22, 5.24, 4.95, 5.38)
leg_ana(o, 4.15, 4.4, 4.22, 5.24, 5.45, [(3.98, 'black', 'A=0.35; B=5'), (3.57, GRAY, 'A=0.75; B=1')])

pp = mk('d')
title(pp, -0.09, -73.8, vf("p) C1F1V3, ", "1.5%"))
pp.line(P_CYL, 'black', 1, [5, 3])
pp.line(P_G, GRAY, 1.5)
pp.line(P_K, 'black', 1.5)
expser(pp, P_EXP)
pp.text(-1.05, -54.7, 'cylinder test', align='center')
pp.arrow([(-1.15, -50), (-1.45, -42.5)], 'black')
pp.text(-1.47, -20.5, 'shear-failure', align='center')
pp.arrow([(-1.1, -17.5), (-0.62, -12.5)], AGRAY)
pp.arrow([(-1.15, -7.5), (-1.7, -7.5)], AGRAY)
pp.text(-1.17, -3.9, 'shear sliding failure')

# ============================ ROW 5 ============================
m2 = mk('a')
title(m2, 0.35, 6.51, [("m)", 'b')])
m2.line(M2_G, GRAY, 1.5)
m2.line(M2_K, 'black', 1.5)
expser(m2, M2_EXP)
m2.text(4.32, 5.86, 'shear failure')
m2.arrow([(6.6, 6.6), (7.9, 6.6)], AGRAY)
leg_exp(m2, 1.02, 1.83, 3.12, 1.95)
leg_ana(m2, 0.96, 2.47, 1.02, 1.83, 2.0, [(2.0, 'black', 'A=0.40; B=5'), (1.53, GRAY, 'A=0.35; B=5')])
inset_axes(m2, 5.13, 1.49, 7.02, 3.35)
m2.line(M2_INS_G, GRAY, 2.2)
m2.line(M2_INS_K, 'black', 2.5)
vcr(m2, 4.62, 3.05)
m2.text(5.41, 3.12, 'A=0.40; B=5')
m2.text(5.8, 2.12, 'A=0.35; B=5')
title(m2, 7.84, 0.51, vf("C2F1V3, ", "1.5%"), align='right')

n2 = mk('b')
title(n2, 41.3, 6.5, [("n)", 'b')])
n2.line(N2_G1, GRAY, 1.5)
n2.line(N2_G2, GRAY, 1.5)
angle_series(n2, N2_MAG, N2_MAG_P, N2_LB, N2_LB_P)
n2.line(N2_RED, RED, 3)
n2.line(N2_BLUE, BLUE, 2.5)
n2.text(65.1, 3.72, 'Experiment', align='center')
n2.text(54.1, 3.33, 'P.Stress')
n2.text(54.1, 2.86, 'P.Strain')
sym_stress(n2, 63.4, 66.8, 3.33)
sym_strain(n2, 63.4, 66.8, 2.86)
n2.text(64.9, 2.31, 'Analysis', align='center')
n2.text(53.6, 2.06, 'P.Stress')
n2.text(53.6, 1.6, 'P.Strain')
n2.line([(62.3, 1.9), (66.5, 1.9)], RED, 3)
n2.line([(62.3, 1.46), (66.5, 1.46)], BLUE, 3)
title(n2, 69.4, 0.5, vf("C2F1V3, ", "1.5%"), align='right')

o2 = mk('c')
title(o2, 0.19, 5.56, vf("o)C2F1V3, ", "1.5%"))
o2.line(O2_G, GRAY, 1.5)
o2.line(O2_K, 'black', 1.5)
expser(o2, O2_EXP)
two_lines(o2, 0.91, 4.68, 4.3, 'last', 'hardening')
o2.arrow([(1.16, 4.05), (1.16, 3.5)], 'black')
o2.arrow([(1.6, 3.55), (2.8, 3.45), (3.6, 3.7)], 'black')
leg_exp(o2, 4.17, 5.21, 1.82, 5.33)
leg_ana(o2, 4.12, 1.25, 4.17, 5.21, 5.43, [(0.83, 'black', 'A=0.40; B=5'), (0.42, GRAY, 'A=0.35; B=5')])


def ins(pts):
    return [(INS_X0 + INS_SX * x, INS_Y0 + INS_SY * y) for x, y in pts]


p2 = mk('d')
title(p2, -0.1, -74.0, vf("p)C2F1V3, ", "1.5%"))
p2.line(P2_CYL, 'black', 1, [5, 3])
p2.line(P2_BOX, 'black', 1.3, [2, 2])
p2.line(P2_G, GRAY, 1.5)
p2.line(P2_K, 'black', 1.5)
expser(p2, P2_EXP)
p2.arrow([(-0.96, -16.8), (-1.32, -21.5)], 'black')
# magnified inset
p2.line([(INS_X0, INS_Y0), (INS_X0, -47.5)], '#777', 1)
p2.line([(INS_X0, INS_Y0), (-2.84, INS_Y0)], '#777', 1)
for tv in (-4, -8, -12):
    p2.line([(INS_X0, INS_Y0 + INS_SY * tv), (INS_X0 + 0.05, INS_Y0 + INS_SY * tv)], '#777', 1)
for tv in (-0.2, -0.4, -0.6, -0.8):
    p2.line([(INS_X0 + INS_SX * tv, INS_Y0), (INS_X0 + INS_SX * tv, INS_Y0 + 1.2)], '#777', 1)
p2.line(ins(P2_G), GRAY, 1.5)
p2.line(ins(P2_K), 'black', 1.5)
expser(p2, ins(P2_EXP), 22)
p2.text(-1.56, INS_Y0 + INS_SY * -12, '-12', align='right', size=15, color='#444')
p2.text(-1.56, INS_Y0 + INS_SY * -4, '-4', align='right', size=15, color='#444')
p2.text(-1.52, -17.6, '0', align='center', size=15, color='#444')
p2.text(INS_X0 + INS_SX * -0.2, -17.6, '-0.2', align='center', size=15, color='#444')
p2.text(INS_X0 + INS_SX * -0.6, -17.6, '-0.6', align='center', size=15, color='#444')
p2.text(-0.78, -60.7, 'cylinder test', align='center')
p2.arrow([(-0.91, -56), (-1.2, -48.5)], 'black')
p2.text(-2.25, -51.3, 'shear failure', align='center')
p2.line([(-2.2, -49), (-1.97, -41)], AGRAY, 1.2, [2, 2])


# ============================ ASSEMBLY ============================
def spacer():
    return alt.Chart(pd.DataFrame({'x': [0], 'y': [0]})).mark_point(opacity=0).encode(
        x=alt.X('x:Q', axis=None), y=alt.Y('y:Q', axis=None)
    ).properties(width=GAP, height=H, view=alt.ViewBackground(stroke='transparent'))


rows = [[a, b, c, d], [e, f, g, h], [i_, j, k, l], [m, n, o, pp], [m2, n2, o2, p2]]
cells = []
for r in rows:
    cells += [r[0].chart(), r[1].chart(), spacer(), r[2].chart(), r[3].chart()]

chart = alt.concat(*cells, columns=5, spacing={'row': VS, 'column': 0},
                   bounds='flush', align='each').properties(
    background='white', padding={'left': 13, 'top': 0, 'right': 3, 'bottom': 0})
chart = chart.configure_view(stroke='#222', strokeWidth=1).configure_axis(
    labelFont=SANS, labelFontSize=18, labelColor='#444', labelFlush=False, labelOverlap=False,
    labelPadding=2, titleFont=SANS, titleFontSize=19, titleFontWeight='bold', titleColor='#111',
    domainColor='#222', tickColor='#222', tickSize=5, grid=False)

chart.save("out.html", embed_options={"renderer": "svg", "actions": False})
